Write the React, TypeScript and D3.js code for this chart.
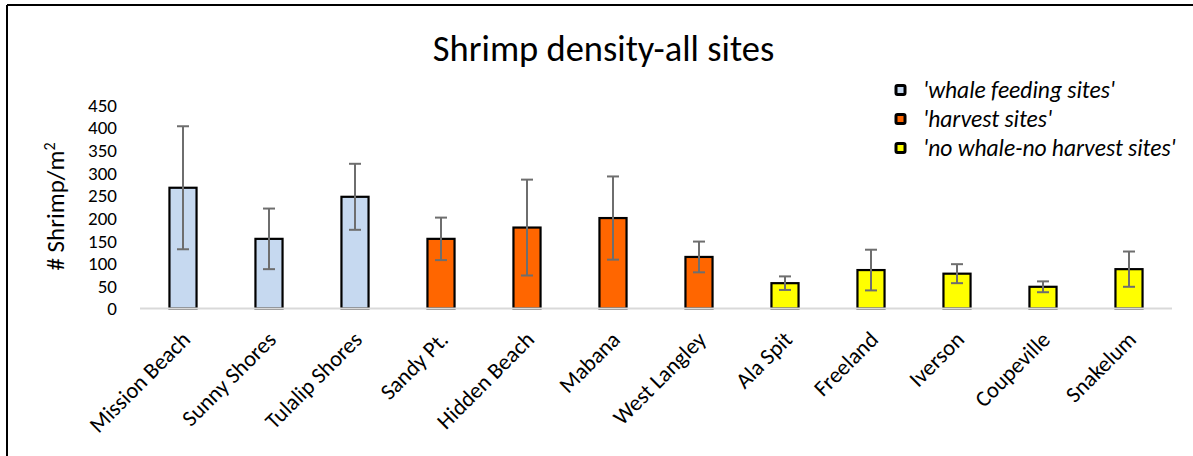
import React from "react";
import * as d3 from "d3";

const sites = ["Mission Beach", "Sunny Shores", "Tulalip Shores", "Sandy Pt.", "Hidden Beach", "Mabana", "West Langley", "Ala Spit", "Freeland", "Iverson", "Coupeville", "Snakelum"];
const means = [267, 154, 247, 154, 179, 200, 114, 56, 85, 77, 48, 87];
const errors = [136, 67, 73, 47, 106, 92, 34, 15, 45, 21, 12, 39];
const siteGroup = [0, 0, 0, 1, 1, 1, 1, 2, 2, 2, 2, 2];
const groupNames = ["'whale feeding sites'", "'harvest sites'", "'no whale-no harvest sites'"];
const groupColors = ["#C6D9F0", "#FF6600", "#FFFF00"];
const yTicks = [0, 50, 100, 150, 200, 250, 300, 350, 400, 450];

const FONT = "Carlito, Lato, 'Open Sans', sans-serif";

export default function App() {
  const W = 1193, H = 456;
  const x = d3.scaleBand<string>().domain(sites).range([140, 1172]).paddingInner(0.685).paddingOuter(0.3425);
  const y = d3.scaleLinear().domain([0, 450]).range([308.5, 105]);
  const bw = x.bandwidth();
  return (
    <svg width={W} height={H} style={{ position: "absolute", left: 0, top: 0, background: "#fff" }} fontFamily={FONT}>
      <rect x={0} y={0} width={W} height={H} fill="#fff" />
      <line x1={7} y1={5} x2={W} y2={5} stroke="#000" strokeWidth={2} />
      <line x1={7} y1={5} x2={7} y2={H} stroke="#000" strokeWidth={2} />
      <text x={603.5} y={61} textAnchor="middle" fontSize={36.5} fill="#000">Shrimp density-all sites</text>
      {yTicks.map(t => (
        <text key={t} x={117} y={y(t)} dy="0.36em" textAnchor="end" fontSize={19} fill="#000">{t}</text>
      ))}
      <text transform={`translate(64,206.5) rotate(-90)`} textAnchor="middle" fontSize={25} fill="#000">
        # Shrimp/m<tspan dy={-9} fontSize={16}>2</tspan>
      </text>
      {sites.map((s, i) => (
        <rect key={s} x={x(s)!} y={y(means[i])} width={bw} height={y(0) - y(means[i])}
          fill={groupColors[siteGroup[i]]} stroke="#000" strokeWidth={2.2} />
      ))}
      <line x1={140} x2={1172} y1={y(0)} y2={y(0)} stroke="#D9D9D9" strokeWidth={2} />
      {sites.map((s, i) => {
        const cx = x(s)! + bw / 2;
        const top = y(means[i] + errors[i]);
        const bot = y(Math.max(0, means[i] - errors[i]));
        return (
          <g key={s} stroke="#6E6E6E" strokeWidth={2}>
            <line x1={cx} x2={cx} y1={top} y2={bot} />
            <line x1={cx - 6} x2={cx + 6} y1={top} y2={top} />
            <line x1={cx - 6} x2={cx + 6} y1={bot} y2={bot} />
          </g>
        );
      })}
      {sites.map(s => {
        const cx = x(s)! + bw / 2;
        return (
          <text key={s} transform={`translate(${cx + 8.5},${341}) rotate(-45)`} textAnchor="end" fontSize={22.5} fill="#000">{s}</text>
        );
      })}
      {groupNames.map((g, i) => {
        const cy = 90 + i * 29;
        return (
          <g key={g}>
            <rect x={896} y={cy - 4.5} width={9} height={9} rx={1.5} fill={groupColors[i]} stroke="#000" strokeWidth={3} />
            <text x={923} y={cy} dy="0.35em" fontSize={23.5} fontStyle="italic" fill="#000">{g}</text>
          </g>
        );
      })}
    </svg>
  );
}
